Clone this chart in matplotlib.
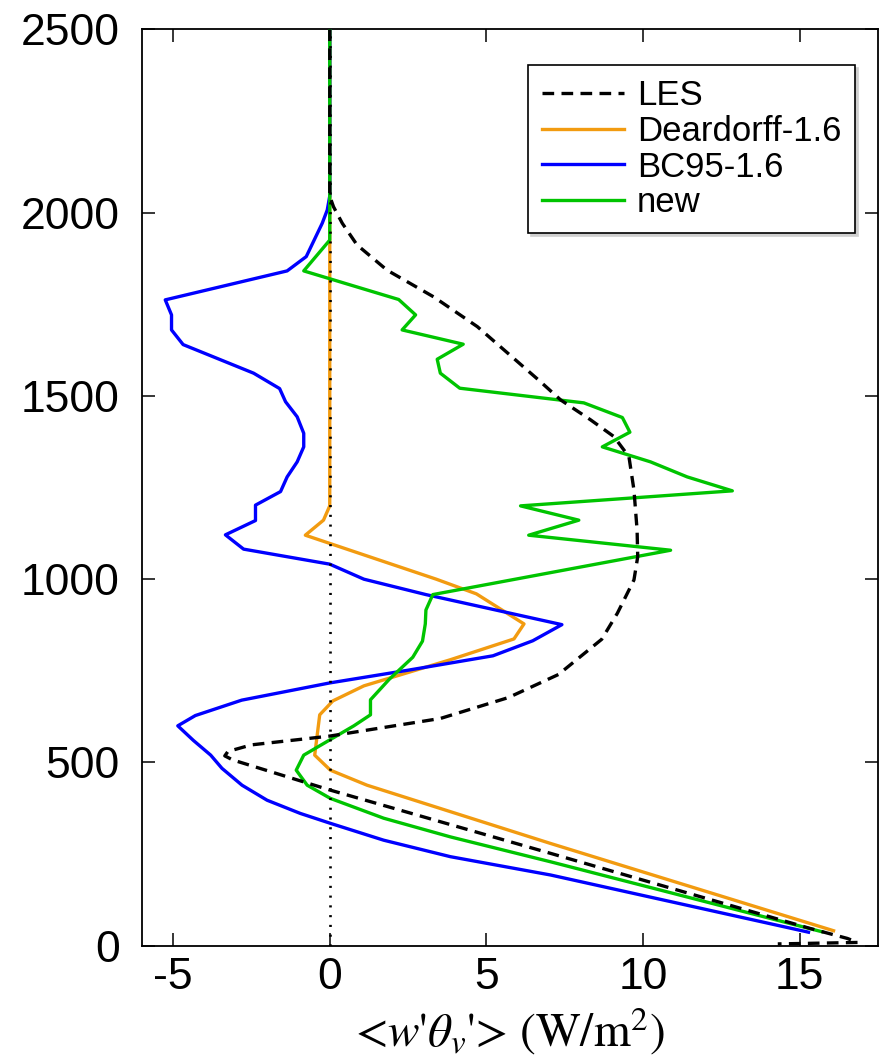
import matplotlib
matplotlib.use("Agg")
import matplotlib.pyplot as plt

plt.rcParams['font.family'] = ['Liberation Sans', 'DejaVu Sans']
plt.rcParams['axes.unicode_minus'] = False
plt.rcParams['mathtext.fontset'] = 'stix'

# Buoyancy flux profiles: height (m) and <w'theta_v'> (W/m^2)
les_z = [2500, 2045, 2016, 1971, 1912, 1843, 1770, 1689, 1543, 1489, 1435,
         1389, 1334, 1243, 1134, 1061, 998, 979, 907, 836, 740, 677, 620,
         572, 548, 530, 518, 507, 425, 252, 47, 20, 9, 5]
les_flux = [0.0, 0.0, 0.12, 0.40, 0.87, 1.83, 3.32, 4.71, 6.67, 7.37, 8.32,
            9.07, 9.55, 9.71, 9.81, 9.83, 9.71, 9.60, 9.18, 8.68, 7.30, 5.70,
            3.53, 0.0, -2.50, -3.25, -3.35, -3.10, 0.0, 7.05, 15.34, 16.52,
            16.85, 14.30]

deardorff_z = [2500, 1200, 1161, 1120, 1000, 960, 878, 837, 780, 709, 668,
               630, 520, 479, 438, 279, 41]
deardorff_flux = [0.0, 0.0, -0.20, -0.78, 3.40, 4.68, 6.20, 5.88, 3.84, 1.09,
                  0.10, -0.32, -0.48, 0.02, 1.19, 7.05, 16.08]

bc95_z = [2500, 2045, 2007, 1971, 1880, 1841, 1762, 1721, 1680, 1640, 1562,
          1520, 1484, 1443, 1398, 1361, 1320, 1279, 1239, 1202, 1160, 1121,
          1082, 1041, 1000, 958, 876, 832, 791, 752, 717, 670, 628, 600, 560,
          520, 484, 438, 397, 361, 334, 288, 243, 193, 37]
bc95_flux = [0.0, 0.0, -0.08, -0.24, -0.75, -1.36, -5.25, -5.05, -5.05, -4.68,
             -2.43, -1.60, -1.41, -1.04, -0.83, -0.83, -1.04, -1.36, -1.57,
             -2.37, -2.37, -3.33, -2.75, 0.0, 1.09, 3.07, 7.41, 6.48, 5.21,
             2.52, 0.0, -2.81, -4.29, -4.85, -4.35, -3.80, -3.44, -2.80, -2.00,
             -0.94, 0.02, 1.72, 3.85, 7.05, 15.28]

new_z = [2500, 1925, 1841, 1763, 1721, 1680, 1641, 1600, 1562, 1521, 1481,
         1441, 1401, 1361, 1320, 1279, 1241, 1200, 1161, 1120, 1079, 958, 916,
         878, 831, 787, 727, 671, 630, 600, 520, 479, 438, 402, 348, 297, 229,
         38]
new_flux = [0.0, 0.0, -0.83, 2.20, 2.74, 2.31, 4.26, 3.43, 3.53, 4.15, 8.11,
            9.34, 9.58, 8.70, 10.24, 11.41, 12.85, 6.09, 7.95, 6.35, 10.88,
            3.29, 3.07, 3.05, 2.96, 2.65, 1.90, 1.30, 1.30, 0.77, -0.83, -1.07,
            -0.72, 0.02, 1.72, 3.85, 7.05, 15.72]

x_ticks = [-5, 0, 5, 10, 15]
y_ticks = [0, 500, 1000, 1500, 2000, 2500]

fig = plt.figure(figsize=(8.86, 10.63), dpi=100)
ax = fig.add_axes([0.160, 0.1103, 0.831, 0.8621])

lw = 2.4
ax.plot(deardorff_flux, deardorff_z, color='#F29B10', lw=lw,
        label='Deardorff-1.6', zorder=2)
ax.plot(bc95_flux, bc95_z, color='#0000FF', lw=lw, label='BC95-1.6', zorder=3)
ax.plot(new_flux, new_z, color='#00C400', lw=lw, label='new', zorder=4)
ax.plot(les_flux, les_z, color='black', lw=lw, dashes=(3.5, 2.2),
        label='LES', zorder=5)
ax.axvline(0, color='black', lw=1.9, dashes=(0.8, 2.9), zorder=6)

ax.set_xlim(-6, 17.5)
ax.set_ylim(0, 2500)
ax.set_xticks(x_ticks)
ax.set_yticks(y_ticks)
ax.tick_params(direction='in', length=9.5, width=1.1, top=True, right=True,
               labelsize=32)
ax.tick_params(axis='x', pad=8)
ax.tick_params(axis='y', pad=16)
for sp in ax.spines.values():
    sp.set_linewidth(1.3)

ax.set_xlabel(r"<$w$'$\theta_v$'> (W/m$^2$)", fontfamily='STIXGeneral',
              fontsize=34, labelpad=5)

handles, labels = ax.get_legend_handles_labels()
order = [labels.index(n) for n in ['LES', 'Deardorff-1.6', 'BC95-1.6', 'new']]
leg = ax.legend([handles[i] for i in order], [labels[i] for i in order],
                loc='upper right', bbox_to_anchor=(0.9688, 0.961),
                borderaxespad=0, fontsize=25, frameon=True, fancybox=False,
                shadow={'color': '#cfcfcf', 'alpha': 1.0},
                handlelength=2.35, handletextpad=0.37,
                labelspacing=0.08, borderpad=0.4)
leg.get_frame().set_edgecolor('black')
leg.get_frame().set_linewidth(1.2)

fig.savefig('out.png', dpi=100)
